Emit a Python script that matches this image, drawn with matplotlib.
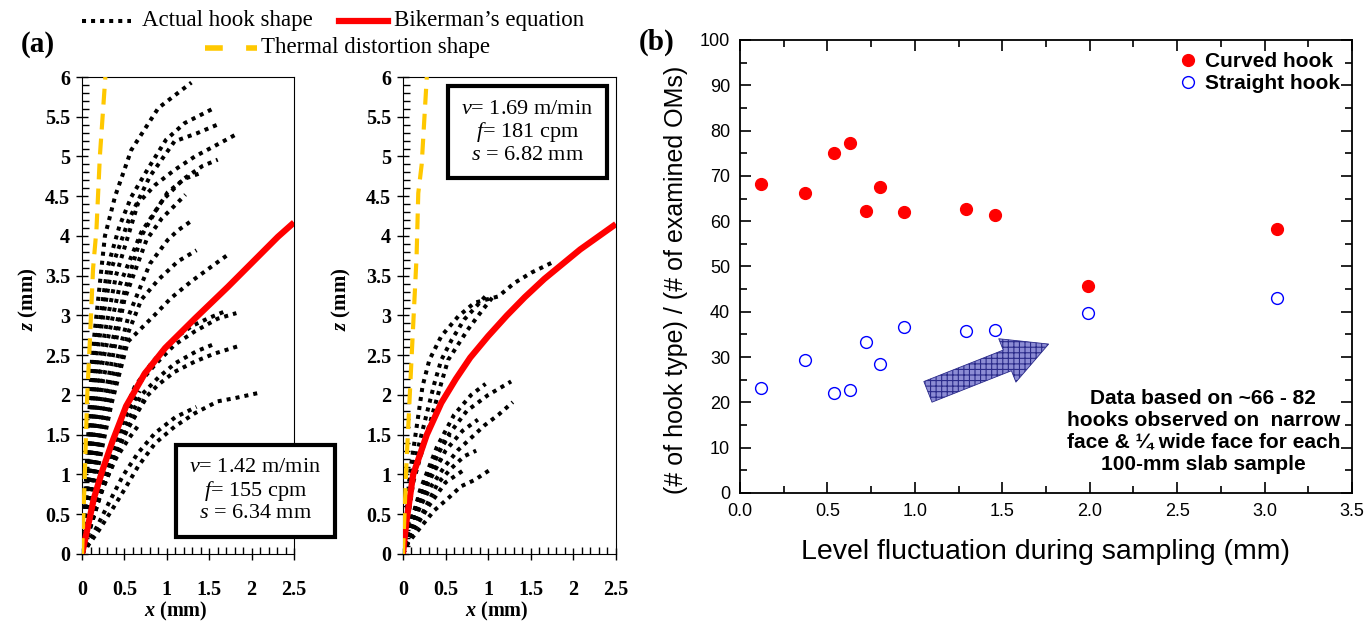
import numpy as np
import matplotlib
matplotlib.use("Agg")
import matplotlib.pyplot as plt
from matplotlib.lines import Line2D
from matplotlib.patches import FancyArrowPatch
from matplotlib.ticker import MultipleLocator, FormatStrFormatter, FuncFormatter

plt.rcParams['mathtext.fontset'] = 'custom'
plt.rcParams['mathtext.rm'] = 'Liberation Serif'
plt.rcParams['mathtext.it'] = 'Liberation Serif:italic'
plt.rcParams['mathtext.bf'] = 'Liberation Serif:bold'
plt.rcParams['mathtext.bfit'] = 'Liberation Serif:italic:bold'
plt.rcParams['hatch.linewidth'] = 0.8

SERIF = 'Liberation Serif'
SANS = ['Liberation Sans', 'DejaVu Sans']

# --- panel (a), left: v=1.42 m/min ---
hooks_left_x = [
    [0.0, 0.05, 0.12, 0.27, 0.39, 0.58, 0.90, 1.29],
    [0.0, 0.06, 0.15, 0.30, 0.44, 0.58, 0.78, 0.99, 1.21, 1.56],
    [0.0, 0.07, 0.17, 0.35, 0.55, 0.80, 1.09, 1.35, 1.64],
    [0.0, 0.08, 0.20, 0.40, 0.66, 0.86, 1.09, 1.33, 1.56, 1.82],
    [0.0, 0.09, 0.22, 0.45, 0.70, 0.95, 1.20, 1.42, 1.60],
    [0.0, 0.10, 0.25, 0.50, 0.70, 0.86, 1.01, 1.21, 1.42],
    [0.0, 0.10, 0.27, 0.50, 0.76, 0.94, 1.09, 1.22],
    [0.0, 0.11, 0.30, 0.55, 0.80, 1.01, 1.13, 1.29],
    [0.0, 0.12, 0.32, 0.55, 0.70, 0.90, 1.13, 1.35],
    [0.0, 0.14, 0.35, 0.54, 0.86, 1.05, 1.29, 1.52, 1.74],
    [0.0, 0.20, 0.45, 0.66, 0.86, 1.09, 1.33, 1.60, 1.82],
    [0.0, 0.20, 0.45, 0.62, 0.82, 1.05, 1.30, 1.50, 1.68],
    [0.0, 0.22, 0.50, 0.74, 0.90, 1.09, 1.33, 1.56, 1.83],
    [0.0, 0.22, 0.48, 0.70, 0.90, 1.10, 1.35, 1.58],
    [0.0, 0.20, 0.35, 0.50, 0.66, 0.86, 1.09, 1.33, 1.60, 1.80, 2.10],
    [0.0, 0.18, 0.32, 0.48, 0.66, 0.86, 1.10, 1.35],
    [0.0, 0.12, 0.25, 0.40, 0.55, 0.68],
    [0.0, 0.12, 0.30, 0.50, 0.68],
    [0.0, 0.15, 0.35, 0.55, 0.75],
    [0.0, 0.10, 0.22, 0.35],
]
hooks_left_z = [
    [0.0, 1.0, 2.5, 4.0, 4.5, 5.08, 5.61, 5.93],
    [0.0, 1.0, 2.5, 3.6, 4.12, 4.49, 4.85, 5.21, 5.42, 5.61],
    [0.0, 1.0, 2.5, 3.6, 4.2, 4.75, 5.19, 5.29, 5.42],
    [0.0, 1.0, 2.4, 3.5, 4.41, 4.64, 4.83, 5.0, 5.13, 5.28],
    [0.0, 1.0, 2.3, 3.4, 4.05, 4.45, 4.72, 4.88, 4.96],
    [0.0, 1.0, 2.2, 3.3, 4.0, 4.30, 4.55, 4.72, 4.80],
    [0.0, 0.9, 2.0, 3.2, 3.95, 4.22, 4.38, 4.52],
    [0.0, 0.9, 2.0, 3.0, 3.65, 3.95, 4.07, 4.19],
    [0.0, 0.9, 1.9, 2.8, 3.2, 3.45, 3.68, 3.82],
    [0.0, 0.85, 1.9, 2.67, 3.01, 3.22, 3.43, 3.61, 3.78],
    [0.0, 0.8, 1.6, 2.13, 2.38, 2.63, 2.80, 2.96, 3.03],
    [0.0, 0.8, 1.65, 2.1, 2.4, 2.68, 2.87, 2.97, 3.05],
    [0.0, 0.75, 1.5, 1.96, 2.13, 2.29, 2.42, 2.52, 2.61],
    [0.0, 0.75, 1.55, 2.0, 2.22, 2.40, 2.55, 2.65],
    [0.0, 0.3, 0.55, 0.81, 1.10, 1.39, 1.60, 1.77, 1.92, 1.96, 2.03],
    [0.0, 0.35, 0.65, 0.98, 1.27, 1.52, 1.72, 1.85],
    [0.0, 0.45, 0.85, 1.2, 1.45, 1.64],
    [0.0, 0.6, 1.2, 1.7, 2.05],
    [0.0, 0.55, 1.15, 1.6, 1.95],
    [0.0, 0.5, 0.95, 1.3],
]
biker_left_x = [0.0, 0.06, 0.14, 0.24, 0.36, 0.52, 0.74, 0.98, 1.33, 1.72, 2.31, 2.5]
biker_left_z = [0.0, 0.3, 0.7, 1.05, 1.42, 1.86, 2.27, 2.59, 2.96, 3.36, 3.99, 4.17]
thermal_left_x = [0.0, 0.03, 0.06, 0.09, 0.13, 0.17, 0.21, 0.275]
thermal_left_z = [0.0, 0.9, 1.96, 2.63, 3.59, 4.08, 5.0, 6.0]

# --- panel (a), right: v=1.69 m/min ---
hooks_mid_x = [
    [0.0, 0.08, 0.23, 0.31, 0.45, 0.65, 0.84, 1.12, 1.31, 1.51, 1.74],
    [0.0, 0.10, 0.37, 0.45, 0.57, 0.72, 0.84, 1.0],
    [0.0, 0.12, 0.45, 0.53, 0.76, 0.92, 1.06],
    [0.0, 0.2, 0.4, 0.6, 0.8, 0.97],
    [0.0, 0.12, 0.3, 0.5, 0.75, 1.0, 1.27],
    [0.0, 0.18, 0.33, 0.49, 0.65, 0.96, 1.12, 1.29],
    [0.0, 0.12, 0.3, 0.5, 0.7, 0.88],
    [0.0, 0.15, 0.41, 0.57, 0.72, 0.86],
    [0.0, 0.06, 0.21, 0.37, 0.53, 0.68, 0.84, 1.01],
    [0.0, 0.1, 0.3, 0.5, 0.72],
    [0.0, 0.1, 0.25, 0.4, 0.55],
    [0.0, 0.08, 0.2, 0.32, 0.45],
    [0.0, 0.1, 0.2, 0.3],
]
hooks_mid_z = [
    [0.0, 1.0, 2.11, 2.44, 2.74, 2.99, 3.16, 3.24, 3.41, 3.54, 3.66],
    [0.0, 1.0, 2.15, 2.44, 2.69, 2.95, 3.09, 3.28],
    [0.0, 0.9, 2.15, 2.44, 2.82, 3.05, 3.24],
    [0.0, 0.8, 1.35, 1.75, 2.0, 2.14],
    [0.0, 0.5, 1.0, 1.45, 1.8, 2.0, 2.17],
    [0.0, 0.55, 0.85, 1.10, 1.31, 1.62, 1.75, 1.91],
    [0.0, 0.45, 0.9, 1.3, 1.55, 1.69],
    [0.0, 0.35, 0.89, 1.08, 1.23, 1.30],
    [0.0, 0.14, 0.34, 0.55, 0.70, 0.85, 0.93, 1.05],
    [0.0, 0.25, 0.6, 0.9, 1.06],
    [0.0, 0.45, 0.9, 1.25, 1.5],
    [0.0, 0.35, 0.7, 0.98, 1.2],
    [0.0, 0.3, 0.6, 0.85],
]
biker_mid_x = [0.0, 0.04, 0.12, 0.28, 0.45, 0.62, 0.79, 1.0, 1.22, 1.43, 1.66, 2.08, 2.5]
biker_mid_z = [0.0, 0.4, 1.0, 1.5, 1.9, 2.2, 2.47, 2.74, 3.0, 3.23, 3.46, 3.83, 4.15]
thermal_mid_x = [0.0, 0.04, 0.10, 0.16, 0.18, 0.22, 0.28]
thermal_mid_z = [0.0, 1.1, 2.44, 3.74, 4.54, 4.9, 6.0]

# --- panel (b) ---
lf = [0.12, 0.37, 0.54, 0.63, 0.72, 0.80, 0.94, 1.29, 1.46, 1.99, 3.07]
curved = [68.3, 66.2, 75.0, 77.2, 62.3, 67.6, 62.0, 62.7, 61.3, 45.7, 58.3]
straight = [23.2, 29.4, 22.1, 22.7, 33.3, 28.4, 36.6, 35.8, 36.0, 39.7, 43.1]

fig = plt.figure(figsize=(13.65, 6.23), dpi=100)
ax1 = fig.add_axes([0.0601, 0.1108, 0.1553, 0.7656])
ax2 = fig.add_axes([0.2952, 0.1108, 0.1560, 0.7656])
ax3 = fig.add_axes([0.5421, 0.2087, 0.4484, 0.7271])

hook_style = dict(color='black', lw=2.9, linestyle=(0, (1, 1.25)), dash_capstyle='butt')


def draw_panel(ax, hx, hz, bx, bz, tx, tz, label_txt, box_pos, ylab_x):
    for xs, zs in zip(hx, hz):
        ax.plot(xs, zs, **hook_style)
    ax.plot(bx, bz, color='#ff0000', lw=4.5, solid_capstyle='butt',
            solid_joinstyle='round', zorder=3)
    ax.plot(tx, tz, color='#ffc800', lw=3, linestyle=(0, (3.8, 2.2)), zorder=4)
    ax.set_xlim(0, 2.5)
    ax.set_ylim(0, 6)
    ax.xaxis.set_major_locator(MultipleLocator(0.5))
    ax.xaxis.set_minor_locator(MultipleLocator(0.1))
    ax.yaxis.set_major_locator(MultipleLocator(0.5))
    ax.yaxis.set_minor_locator(MultipleLocator(0.1))
    fmt = FuncFormatter(lambda v, p: '%g' % v)
    ax.xaxis.set_major_formatter(fmt)
    ax.yaxis.set_major_formatter(fmt)
    ax.tick_params(which='major', direction='inout', length=9, width=1,
                   top=False, right=False, labelsize=14.5)
    ax.tick_params(which='minor', direction='in', length=5, width=1,
                   top=False, right=False)
    ax.tick_params(axis='x', which='major', pad=14)
    ax.tick_params(axis='y', which='major', pad=4)
    for lab in ax.get_xticklabels() + ax.get_yticklabels():
        lab.set_fontfamily(SERIF)
        lab.set_fontweight('bold')
    ax.set_xlabel(r'$\mathbfit{x}$ (mm)', fontsize=14.5, fontweight='bold',
                  fontfamily=SERIF)
    ax.xaxis.set_label_coords(0.44, -0.097)
    ax.set_ylabel(r'$\mathbfit{z}$ (mm)', fontsize=15, fontweight='bold',
                  fontfamily=SERIF)
    ax.yaxis.set_label_coords(ylab_x, 0.535)
    ax.text(box_pos[0], box_pos[1], label_txt, transform=ax.transAxes,
            ha='center', va='center', fontsize=16, fontfamily=SERIF,
            multialignment='center', linespacing=1.08, zorder=10,
            bbox=dict(boxstyle='square,pad=0.62', fc='white', ec='black', lw=3))


draw_panel(ax1, hooks_left_x, hooks_left_z, biker_left_x, biker_left_z,
           thermal_left_x, thermal_left_z,
           '$v$= 1.42 m/min\n$f$= 155 cpm\n$s$ = 6.34 mm', (0.818, 0.133), -0.2)
draw_panel(ax2, hooks_mid_x, hooks_mid_z, biker_mid_x, biker_mid_z,
           thermal_mid_x, thermal_mid_z,
           '$v$= 1.69 m/min\n$f$= 181 cpm\n$s$ = 6.82 mm', (0.585, 0.884), -0.235)

# legend for panel (a), placed above the two plots
leg_items = [
    (Line2D([0.060, 0.096], [0.967, 0.967], **hook_style), 0.104, 0.967, 'Actual hook shape'),
    (Line2D([0.248, 0.284], [0.967, 0.967], color='#ff0000', lw=4.5), 0.289, 0.967, 'Bikerman\u2019s equation'),
    (Line2D([0.150, 0.188], [0.923, 0.923], color='#ffc800', lw=4, linestyle=(0, (3.2, 4.2))), 0.191, 0.923, 'Thermal distortion shape'),
]
for line, tx, ty, txt in leg_items:
    line.set_transform(fig.transFigure)
    fig.add_artist(line)
    fig.text(tx, ty, txt, fontsize=16.5, fontfamily=SERIF, va='center', ha='left')

fig.text(0.015, 0.928, '(a)', fontsize=21, fontweight='bold', fontfamily=SERIF, va='center')
fig.text(0.468, 0.932, '(b)', fontsize=21, fontweight='bold', fontfamily=SERIF, va='center')

# --- panel (b) plotting ---
ax3.plot(lf, curved, 'o', color='#ff0000', ms=8.5, mec='#ff0000', label='Curved hook')
ax3.plot(lf, straight, 'o', color='#0000ff', mfc='none', ms=8.5, mew=1.0, label='Straight hook')
ax3.set_xlim(0, 3.5)
ax3.set_ylim(0, 100)
ax3.xaxis.set_major_locator(MultipleLocator(0.5))
ax3.xaxis.set_minor_locator(MultipleLocator(0.25))
ax3.yaxis.set_major_locator(MultipleLocator(10))
ax3.yaxis.set_minor_locator(MultipleLocator(5))
ax3.xaxis.set_major_formatter(FormatStrFormatter('%.1f'))
ax3.tick_params(which='major', direction='in', length=8, width=1.2,
                top=True, right=True, labelsize=13, pad=7)
ax3.tick_params(which='minor', direction='in', length=5, width=1.2,
                top=True, right=True)
for lab in ax3.get_xticklabels() + ax3.get_yticklabels():
    lab.set_fontfamily(SANS)
for sp in ax3.spines.values():
    sp.set_linewidth(1.3)
ax3.set_xlabel('Level fluctuation during sampling (mm)', fontsize=20.5,
               fontfamily=SANS, labelpad=14)
ax3.set_ylabel('(# of hook type) / (# of examined OMs)', fontsize=18,
               fontfamily=SANS)
ax3.yaxis.set_label_coords(-0.085, 0.47)
ax3.legend(loc='upper right', frameon=False, handlelength=0.9, handletextpad=0.35,
           borderaxespad=0.2, labelspacing=0.12,
           prop={'family': SANS, 'weight': 'bold', 'size': 15})

arrow = FancyArrowPatch((1.06, 22.1), (1.78, 33.1),
                        arrowstyle='simple,head_length=2.0,head_width=2.1,tail_width=1.0',
                        mutation_scale=16, fc='#8c8cd4', ec='#2b2b8a', lw=0.6,
                        hatch='+++', zorder=5)
ax3.add_patch(arrow)

ax3.text(2.65, 13.6, 'Data based on ~66 - 82\nhooks observed on  narrow\n'
         'face & \u00bc wide face for each\n100-mm slab sample',
         ha='center', va='center', fontsize=15, fontweight='bold',
         fontfamily=SANS, linespacing=1.2)

fig.savefig('out.png', dpi=100)
